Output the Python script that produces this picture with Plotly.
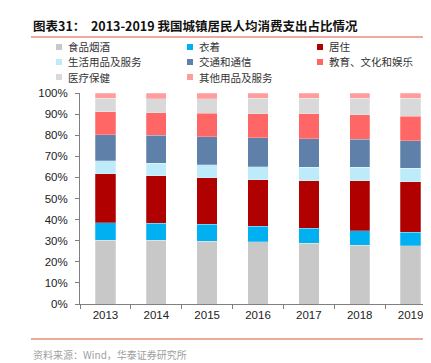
import plotly.graph_objects as go

years = ["2013", "2014", "2015", "2016", "2017", "2018", "2019"]
food = [30.1, 30.1, 29.8, 29.4, 28.7, 27.8, 27.5]
clothing = [8.4, 8.1, 7.9, 7.4, 7.1, 6.8, 6.6]
housing = [23.2, 22.5, 22.1, 22.0, 22.7, 23.9, 23.9]
household = [6.3, 6.0, 6.1, 6.3, 6.4, 6.4, 6.4]
transport = [12.3, 13.3, 13.4, 13.8, 13.5, 13.2, 13.0]
education = [10.7, 10.7, 11.2, 11.3, 11.8, 11.5, 11.7]
health = [6.5, 6.6, 6.8, 7.4, 7.3, 7.9, 8.4]
other = [2.5, 2.7, 2.7, 2.4, 2.5, 2.5, 2.5]

names = ["食品烟酒", "衣着", "居住", "生活用品及服务", "交通和通信",
         "教育、文化和娱乐", "医疗保健", "其他用品及服务"]
series = [food, clothing, housing, household, transport, education, health, other]
colors = ["#C8C8C8", "#00B0F0", "#B00000", "#BDEBFA", "#5F80A9",
          "#FF6666", "#D9D9D9", "#FF9D9D"]

W, H = 431, 363
ML, MR, MT, MB = 72, 3, 85, 67

fig = go.Figure()
for name, vals, col in zip(names, series, colors):
    fig.add_trace(go.Bar(
        x=years, y=vals, name=name, showlegend=False,
        marker=dict(color=col, line=dict(color="rgba(255,255,255,0.5)", width=0.5)),
    ))

cjk = "Noto Sans CJK SC"
lat = "Liberation Sans, Arial"

# manual legend (3 columns)
col_x = [48, 179, 309]
row_y = [39, 54, 69]
shapes = []
annotations = []
for i, (name, col) in enumerate(zip(names, colors)):
    r, c = divmod(i, 3)
    x0 = col_x[c]
    yc = row_y[r]
    shapes.append(dict(type="rect", xref="paper", yref="paper",
                       x0=(x0 - ML) / (W - ML - MR), x1=(x0 + 6 - ML) / (W - ML - MR),
                       y0=(H - MB - (yc + 3)) / (H - MT - MB), y1=(H - MB - (yc - 3)) / (H - MT - MB),
                       fillcolor=col, line=dict(width=0)))
    annotations.append(dict(xref="paper", yref="paper",
                            x=(x0 + 10 - ML) / (W - ML - MR),
                            y=(H - MB - yc) / (H - MT - MB),
                            xanchor="left", yanchor="middle", showarrow=False,
                            text=name, font=dict(family=cjk, size=10.5, color="#333333")))

# title
annotations.append(dict(xref="paper", yref="paper", x=(23 - ML) / (W - ML - MR),
                        y=(H - MB - 18) / (H - MT - MB), xanchor="left", yanchor="middle",
                        showarrow=False,
                        text="<b>图表31：  2013-2019 我国城镇居民人均消费支出占比情况</b>",
                        font=dict(family=cjk, size=12.5, color="#111111")))
# source
annotations.append(dict(xref="paper", yref="paper", x=(23 - ML) / (W - ML - MR),
                        y=(H - MB - 346) / (H - MT - MB), xanchor="left", yanchor="middle",
                        showarrow=False, text="资料来源：Wind，华泰证券研究所",
                        font=dict(family=cjk, size=10, color="#A0A0A0")))
# red lines
for yl in [29, 331]:
    yy = (H - MB - yl) / (H - MT - MB)
    shapes.append(dict(type="line", xref="paper", yref="paper",
                       x0=(23 - ML) / (W - ML - MR), x1=(W - ML) / (W - ML - MR),
                       y0=yy, y1=yy, line=dict(color="#E2513B", width=1)))

fig.update_layout(
    width=W, height=H, barmode="stack", bargap=0.6,
    margin=dict(l=ML, r=MR, t=MT, b=MB, pad=0),
    paper_bgcolor="white", plot_bgcolor="white",
    shapes=shapes, annotations=annotations,
    font=dict(family=lat, size=11, color="#222222"),
    xaxis=dict(type="category", showline=True, linecolor="#808080", linewidth=1,
               ticks="outside", ticklen=4, tickcolor="#808080", tickson="boundaries",
               showgrid=False, tickfont=dict(family=lat, size=11.5, color="#222222")),
    yaxis=dict(range=[0, 100], dtick=10, ticksuffix="%", showline=True,
               linecolor="#808080", linewidth=1, ticks="outside", ticklen=4,
               tickcolor="#808080", showgrid=False, zeroline=False, ticklabelstandoff=5,
               tickfont=dict(family=lat, size=11.5, color="#222222")),
)

fig.write_html("out.html")
